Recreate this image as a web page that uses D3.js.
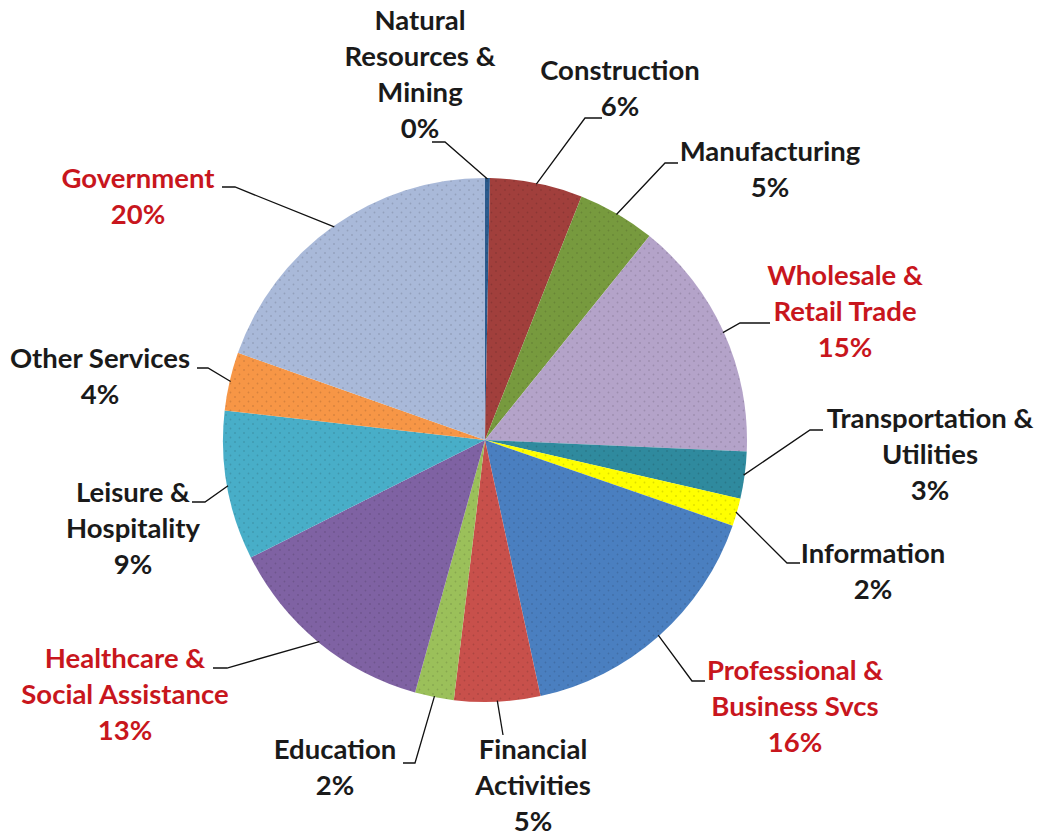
<!DOCTYPE html>
<html>
<head>
<meta charset="utf-8">
<script src="https://cdn.jsdelivr.net/npm/d3@7"></script>
<style>
  body { margin: 0; background: #fff; }
  text { font-family: Lato, "Open Sans", sans-serif; }
</style>
</head>
<body>
<div id="chart"></div>
<script>
// data (share of employment, %)
var categories = ["Natural Resources & Mining", "Construction", "Manufacturing",
    "Wholesale & Retail Trade", "Transportation & Utilities", "Information",
    "Professional & Business Svcs", "Financial Activities", "Education",
    "Healthcare & Social Assistance", "Leisure & Hospitality", "Other Services", "Government"];
var values = [0.3, 5.7, 4.8, 14.9, 2.9, 1.7, 16.3, 5.3, 2.4, 13.3, 9.2, 3.6, 19.6];
var labelLines = [
    ["Natural", "Resources &", "Mining"],
    ["Construction"],
    ["Manufacturing"],
    ["Wholesale &", "Retail Trade"],
    ["Transportation &", "Utilities"],
    ["Information"],
    ["Professional &", "Business Svcs"],
    ["Financial", "Activities"],
    ["Education"],
    ["Healthcare &", "Social Assistance"],
    ["Leisure &", "Hospitality"],
    ["Other Services"],
    ["Government"]
];
var highlighted = ["Wholesale & Retail Trade", "Professional & Business Svcs",
    "Healthcare & Social Assistance", "Government"];
var colors = ["#2b5a8c", "#a13f3c", "#779a3e", "#b4a3c9", "#2f8a9e", "#ffff00",
    "#4a7fc0", "#c8504b", "#9bc05a", "#7f62a3", "#48aec8", "#f79646", "#a9b9d9"];

var width = 1043, height = 839;
var cx = 485, cy = 440, radius = 262;

// label block centre (x, first line centre y), leader knee and end points
var layout = {
    "Natural Resources & Mining":     {x: 420, y: 20,  kx: 445, ky: 142, ex: 432},
    "Construction":                   {x: 620, y: 70,  kx: 585, ky: 118, ex: 602},
    "Manufacturing":                  {x: 770, y: 151, kx: 665, ky: 163, ex: 678},
    "Wholesale & Retail Trade":       {x: 845, y: 275, kx: 740, ky: 323, ex: 770},
    "Transportation & Utilities":     {x: 930, y: 418, kx: 810, ky: 430, ex: 823},
    "Information":                    {x: 873, y: 553, kx: 787, ky: 563, ex: 800},
    "Professional & Business Svcs":   {x: 795, y: 670, kx: 692, ky: 681, ex: 705},
    "Financial Activities":           {x: 533, y: 749, kx: 503, ky: 735, ex: 503},
    "Education":                      {x: 335, y: 749, kx: 415, ky: 763, ex: 403},
    "Healthcare & Social Assistance": {x: 125, y: 658, kx: 227, ky: 668, ex: 213},
    "Leisure & Hospitality":          {x: 133, y: 492, kx: 205, ky: 502, ex: 192},
    "Other Services":                 {x: 100, y: 358, kx: 208, ky: 368, ex: 197},
    "Government":                     {x: 138, y: 178, kx: 235, ky: 187, ex: 222}
};
var lineHeight = 36;

var svg = d3.select("#chart").append("svg")
    .attr("width", width)
    .attr("height", height);

var color = d3.scaleOrdinal().domain(categories).range(colors);

// stippled fill like the original
var defs = svg.append("defs");
categories.forEach(function(c, i) {
    var p = defs.append("pattern")
        .attr("id", "dots" + i)
        .attr("patternUnits", "userSpaceOnUse")
        .attr("width", 9).attr("height", 9);
    p.append("rect").attr("width", 9).attr("height", 9).attr("fill", color(c));
    p.append("circle").attr("cx", 2).attr("cy", 2).attr("r", 0.9)
        .attr("fill", d3.color(color(c)).darker(0.7)).attr("opacity", 0.6);
    p.append("circle").attr("cx", 6.5).attr("cy", 6.5).attr("r", 0.9)
        .attr("fill", d3.color(color(c)).darker(0.7)).attr("opacity", 0.6);
});

var pie = d3.pie().sort(null).value(function(d) { return d.value; });
var arc = d3.arc().innerRadius(0).outerRadius(radius);
var edge = d3.arc().innerRadius(radius - 1).outerRadius(radius - 1);

var data = categories.map(function(c, i) {
    return {name: c, value: values[i], lines: labelLines[i]};
});
var arcs = pie(data);
var total = d3.sum(values);

var g = svg.append("g").attr("transform", "translate(" + cx + "," + cy + ")");

g.selectAll("path.slice")
    .data(arcs)
    .enter().append("path")
    .attr("class", "slice")
    .attr("d", arc)
    .attr("fill", function(d, i) { return "url(#dots" + i + ")"; });

// leader lines
svg.append("g").selectAll("polyline")
    .data(arcs)
    .enter().append("polyline")
    .attr("fill", "none")
    .attr("stroke", "#111")
    .attr("stroke-width", 1.3)
    .attr("points", function(d) {
        var p = edge.centroid(d), l = layout[d.data.name];
        return [[p[0] + cx, p[1] + cy], [l.kx, l.ky], [l.ex, l.ky]].join(" ");
    });

// labels
var labels = svg.append("g").selectAll("text")
    .data(arcs)
    .enter().append("text")
    .attr("text-anchor", "middle")
    .attr("font-size", 27.5)
    .attr("font-weight", "bold")
    .attr("fill", function(d) {
        return highlighted.indexOf(d.data.name) >= 0 ? "#c8161d" : "#1a1a1a";
    })
    .attr("x", function(d) { return layout[d.data.name].x; })
    .attr("y", function(d) { return layout[d.data.name].y; });

labels.each(function(d) {
    var t = d3.select(this), l = layout[d.data.name];
    var lines = d.data.lines.concat([Math.round(d.data.value / total * 100) + "%"]);
    lines.forEach(function(s, j) {
        t.append("tspan")
            .attr("x", l.x)
            .attr("y", l.y + j * lineHeight)
            .attr("dy", "0.35em")
            .text(s);
    });
});
</script>
</body>
</html>
